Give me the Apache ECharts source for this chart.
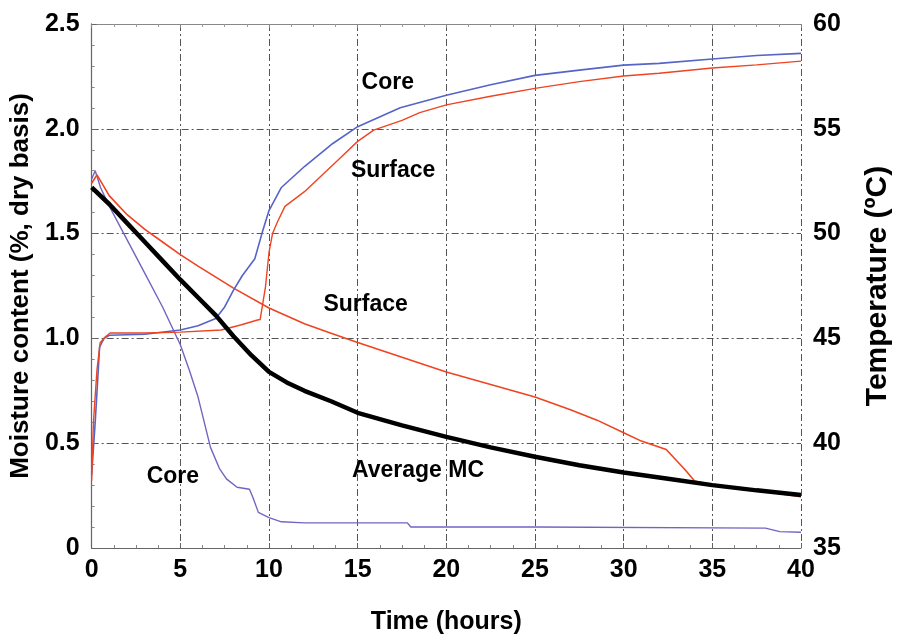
<!DOCTYPE html>
<html>
<head>
<meta charset="utf-8">
<script src="https://cdn.jsdelivr.net/npm/echarts/dist/echarts.min.js"></script>
<style>html,body{margin:0;background:#fff}#main{width:901px;height:641px}</style>
</head>
<body>
<div id="main"></div>
<script>
// 含水率 (左轴)
var avgT = [0, 1, 2, 3, 4, 5, 6, 7, 8, 9, 10, 11, 12, 13.5, 15, 17.5, 20, 22.5, 25, 27.5, 30, 32.5, 35, 37.5, 40];
var avgMC = [1.72, 1.64, 1.55, 1.46, 1.37, 1.28, 1.195, 1.11, 1.01, 0.92, 0.84, 0.79, 0.75, 0.70, 0.645, 0.585, 0.53, 0.48, 0.435, 0.395, 0.36, 0.33, 0.30, 0.275, 0.253];

var coreMcT = [0, 0.2, 0.5, 1, 2, 3, 4, 5, 5.5, 6, 6.7, 7.2, 7.6, 8.2, 8.9, 9.1, 9.4, 10, 10.7, 12, 14, 17.8, 18, 25, 38, 38.8, 40];
var coreMC = [1.76, 1.80, 1.72, 1.63, 1.47, 1.31, 1.15, 0.97, 0.85, 0.72, 0.48, 0.38, 0.33, 0.29, 0.28, 0.24, 0.17, 0.145, 0.125, 0.12, 0.12, 0.12, 0.10, 0.10, 0.095, 0.078, 0.075];

var surfMcT = [0, 0.3, 1, 2, 3, 4, 5, 6, 8, 10, 12, 13.5, 15, 17.5, 20, 22.5, 25, 27, 28.5, 30, 31, 32.4, 33.5, 34, 34.5, 37, 40];
var surfMC = [1.74, 1.78, 1.68, 1.59, 1.52, 1.46, 1.40, 1.345, 1.24, 1.145, 1.07, 1.025, 0.98, 0.91, 0.84, 0.78, 0.72, 0.66, 0.61, 0.55, 0.51, 0.47, 0.37, 0.32, 0.31, 0.28, 0.245];

// 温度 (右轴)
var coreTempT = [0, 0.2, 0.45, 0.7, 1, 3, 5, 6, 7, 7.5, 8, 8.5, 9.2, 9.6, 10, 10.7, 12, 13.6, 15, 17.4, 20, 22.5, 25, 27.5, 30, 32, 35, 37.5, 40];
var coreTemp = [38.5, 41, 44.6, 45.0, 45.15, 45.2, 45.4, 45.6, 45.95, 46.5, 47.3, 48.0, 48.8, 50.0, 51.1, 52.2, 53.2, 54.3, 55.1, 56.0, 56.6, 57.1, 57.55, 57.8, 58.04, 58.12, 58.33, 58.5, 58.6];

var surfTempT = [0, 0.1, 0.3, 0.48, 0.76, 1.04, 3, 5, 7.3, 8.4, 9.35, 9.5, 9.8, 10, 10.2, 10.5, 10.9, 12, 13, 14, 15, 15.9, 17.5, 18.5, 20, 22.5, 25, 27.5, 30, 32, 35, 37.5, 40];
var surfTemp = [38.2, 41, 43.5, 44.8, 45.07, 45.26, 45.26, 45.3, 45.4, 45.64, 45.88, 45.9, 47.45, 49.1, 50.0, 50.6, 51.3, 52.0, 52.8, 53.6, 54.4, 54.94, 55.4, 55.77, 56.14, 56.55, 56.93, 57.25, 57.52, 57.65, 57.9, 58.05, 58.23];

// 图中文字
var noteText = ['Core', 'Surface', 'Surface', 'Core', 'Average MC'];
var noteT = [16.7, 17.0, 15.45, 4.58, 18.4];
var noteMC = [2.22, 1.80, 1.16, 0.34, 0.37];

function pairs(xs, ys) {
    var out = [];
    for (var i = 0; i < xs.length; i++) out.push([xs[i], ys[i]]);
    return out;
}

var notes = [];
for (var i = 0; i < noteText.length; i++) {
    notes.push({ name: noteText[i], value: [noteT[i], noteMC[i]] });
}

var sans = "'Liberation Sans', Arial, sans-serif";
var gridLine = { show: true, lineStyle: { color: '#555', width: 1, type: [7, 3, 2, 3] } };

var myChart = echarts.init(document.getElementById('main'));
var option = {
    backgroundColor: '#fff',
    animation: false,
    grid: { left: 91, right: 99, top: 24, bottom: 93 },
    xAxis: [{
        type: 'value', min: 0, max: 40, interval: 5,
        name: 'Time (hours)', nameLocation: 'middle', nameGap: 62,
        nameTextStyle: { fontFamily: sans, fontWeight: 'bold', fontSize: 25, color: '#000' },
        axisLine: { lineStyle: { color: '#666', width: 1 } },
        axisTick: { inside: true, length: 5, lineStyle: { color: '#666' } },
        minorTick: { show: true, splitNumber: 4, length: 3, lineStyle: { color: '#888' } },
        axisLabel: { fontFamily: sans, fontWeight: 'bold', fontSize: 25, color: '#000', margin: 10 },
        splitLine: gridLine
    }, {
        type: 'value', min: 0, max: 40, interval: 5, position: 'top',
        axisLine: { show: true, lineStyle: { color: '#888', width: 1 } },
        axisTick: { inside: true, length: 4, lineStyle: { color: '#888' } },
        minorTick: { show: true, splitNumber: 4, length: 3, lineStyle: { color: '#999' } },
        axisLabel: { show: false },
        splitLine: { show: false }
    }],
    yAxis: [{
        type: 'value', min: 0, max: 2.5, interval: 0.5,
        name: 'Moisture content (%, dry basis)', nameLocation: 'middle', nameGap: 56, nameRotate: 90,
        nameTextStyle: { fontFamily: sans, fontWeight: 'bold', fontSize: 26, color: '#000' },
        axisLine: { show: true, lineStyle: { color: '#555', width: 1.2 } },
        axisTick: { show: true, inside: true, length: 5, lineStyle: { color: '#666' } },
        minorTick: { show: true, splitNumber: 5, length: 3, lineStyle: { color: '#888' } },
        axisLabel: {
            fontFamily: sans, fontWeight: 'bold', fontSize: 25, color: '#000', margin: 12,
            formatter: function (v) { return v === 0 ? '0' : v.toFixed(1); }
        },
        splitLine: gridLine
    }, {
        type: 'value', min: 35, max: 60, interval: 5, position: 'right',
        name: 'Temperature (ºC)', nameLocation: 'middle', nameGap: 62, nameRotate: 90,
        nameTextStyle: { fontFamily: sans, fontWeight: 'bold', fontSize: 30, color: '#000' },
        axisLine: { show: true, lineStyle: { color: '#666', width: 1 } },
        axisTick: { show: false },
        axisLabel: { fontFamily: sans, fontWeight: 'bold', fontSize: 25, color: '#000', margin: 12 },
        splitLine: { show: false }
    }],
    series: [{
        name: 'Core MC', type: 'line', yAxisIndex: 0, symbol: 'none',
        data: pairs(coreMcT, coreMC),
        lineStyle: { color: '#7066c2', width: 1.4 }
    }, {
        name: 'Surface MC', type: 'line', yAxisIndex: 0, symbol: 'none',
        data: pairs(surfMcT, surfMC),
        lineStyle: { color: '#ee4422', width: 1.6 }
    }, {
        name: 'Core temp', type: 'line', yAxisIndex: 1, symbol: 'none',
        data: pairs(coreTempT, coreTemp),
        lineStyle: { color: '#5564c6', width: 1.6 }
    }, {
        name: 'Surface temp', type: 'line', yAxisIndex: 1, symbol: 'none',
        data: pairs(surfTempT, surfTemp),
        lineStyle: { color: '#ee4422', width: 1.4 }
    }, {
        name: 'Average MC', type: 'line', yAxisIndex: 0, symbol: 'none',
        data: pairs(avgT, avgMC),
        lineStyle: { color: '#000', width: 4.5 }
    }, {
        name: 'notes', type: 'scatter', yAxisIndex: 0, symbolSize: 1,
        itemStyle: { color: 'rgba(0,0,0,0)' },
        data: notes,
        label: {
            show: true, position: 'inside', formatter: '{b}',
            fontFamily: sans, fontWeight: 'bold', fontSize: 23, color: '#000',
            textBorderWidth: 0, opacity: 1
        },
        z: 10
    }]
};
myChart.setOption(option);
</script>
</body>
</html>
